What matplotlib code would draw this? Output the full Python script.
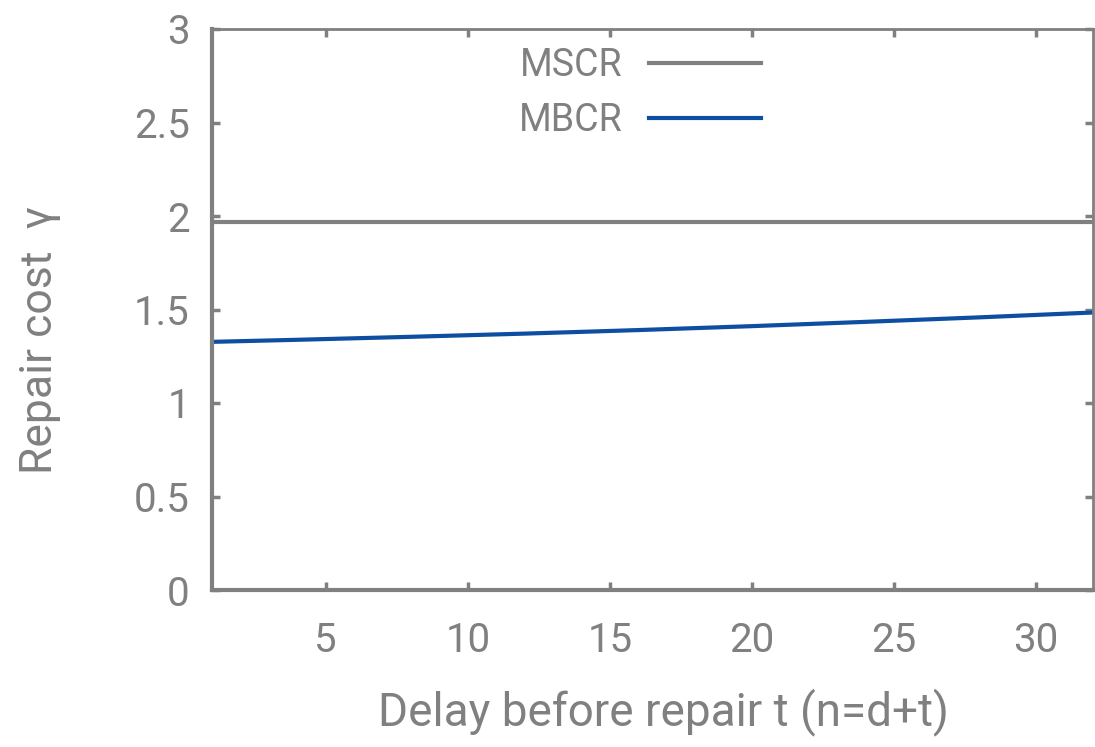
import matplotlib
matplotlib.use("Agg")
import matplotlib.pyplot as plt

# delay t and repair cost values
delay = [1, 4, 8, 12, 16, 20, 24, 28, 32]
mbcr = [1.327, 1.338, 1.354, 1.371, 1.390, 1.411, 1.434, 1.458, 1.484]
mscr = [1.968] * len(delay)

x_ticks = [5, 10, 15, 20, 25, 30]
y_ticks = [0, 0.5, 1, 1.5, 2, 2.5, 3]
y_tick_labels = ["0", "0.5", "1", "1.5", "2", "2.5", "3"]

gray = "#808080"
blue = "#0d4ea1"

plt.rcParams["font.family"] = ["Roboto", "DejaVu Sans"]

fig = plt.figure(figsize=(10.95, 7.47), dpi=100)
ax = fig.add_axes([212 / 1095, 1 - 590 / 747, (1093 - 212) / 1095, (590 - 29) / 747])

ax.plot(delay, mscr, color=gray, lw=3, label="MSCR")
ax.plot(delay, mbcr, color=blue, lw=3, label="MBCR")

ax.set_xlim(1, 32)
ax.set_ylim(0, 3)
ax.set_xticks(x_ticks)
ax.set_yticks(y_ticks)
ax.set_yticklabels(y_tick_labels)

for side in ["left", "bottom", "top", "right"]:
    ax.spines[side].set_color(gray)
    ax.spines[side].set_linewidth(3 if side in ("left", "bottom") else 2)

ax.tick_params(axis="both", direction="in", length=6, width=2.5, color=gray,
               labelcolor=gray, labelsize=29, top=True, right=True)
ax.tick_params(axis="x", pad=22)
ax.tick_params(axis="y", pad=16)

leg = ax.legend(loc="center", bbox_to_anchor=(640 / 1095, 1 - 93 / 747),
                bbox_transform=fig.transFigure, frameon=False, markerfirst=False,
                fontsize=27, handlelength=3.0, handletextpad=0.7,
                labelspacing=0.46, borderpad=0)
for t in leg.get_texts():
    t.set_color(gray)
    t.set_ha("right")

fig.text(40 / 1095, 1 - 340 / 747, "Repair cost  γ", rotation=90, color=gray,
         fontsize=32, ha="center", va="center")
fig.text(663 / 1095, 1 - 712 / 747, "Delay before repair t (n=d+t)", color=gray,
         fontsize=33, ha="center", va="center")

fig.savefig("out.png", dpi=100)
